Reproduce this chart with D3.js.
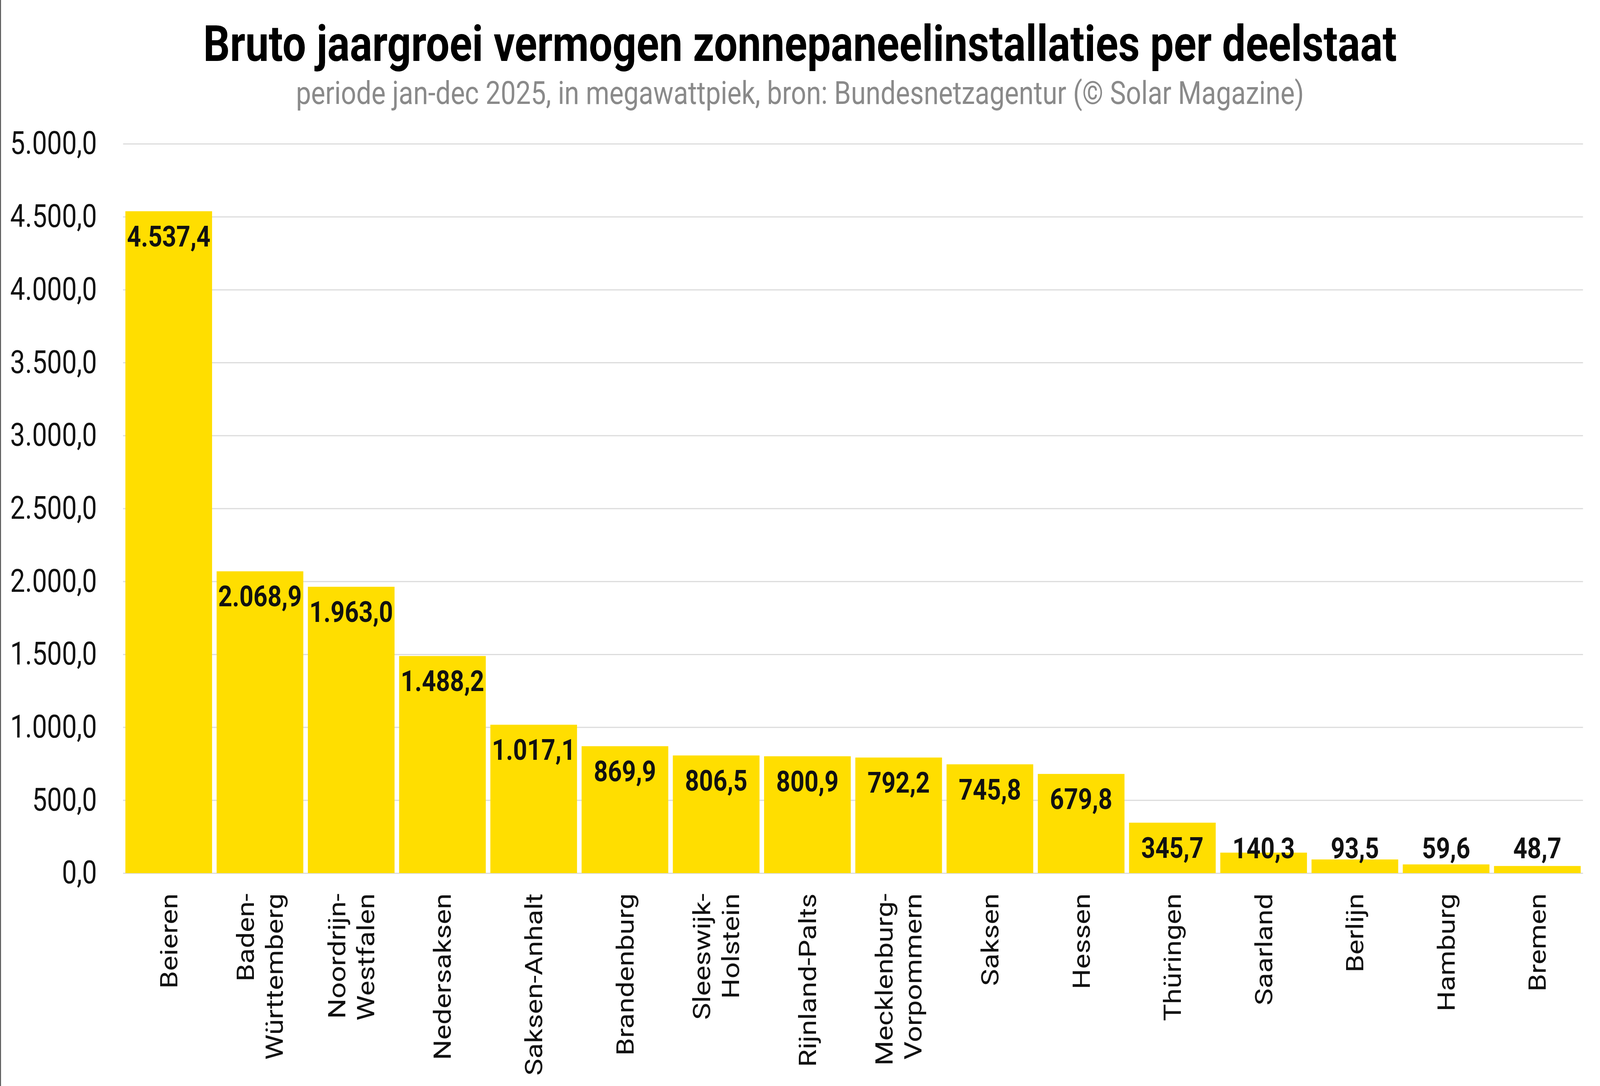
<!DOCTYPE html>
<html>
<head>
<meta charset="utf-8">
<script src="https://cdn.jsdelivr.net/npm/d3@7/dist/d3.min.js"></script>
<style>
  html, body { margin: 0; padding: 0; background: #fff; overflow: hidden; width: 100%; height: 100%; }
  svg { display: block; width: 100vw; height: 100vh; }
</style>
</head>
<body>
<script>
// ---- data ----
const categories = ["Beieren", "Baden-Württemberg", "Noordrijn-Westfalen", "Nedersaksen", "Saksen-Anhalt",
  "Brandenburg", "Sleeswijk-Holstein", "Rijnland-Palts", "Mecklenburg-Vorpommern", "Saksen", "Hessen",
  "Thüringen", "Saarland", "Berlijn", "Hamburg", "Bremen"];
const tickLabelLines = [["Beieren"], ["Baden-", "Württemberg"], ["Noordrijn-", "Westfalen"], ["Nedersaksen"],
  ["Saksen-Anhalt"], ["Brandenburg"], ["Sleeswijk-", "Holstein"], ["Rijnland-Palts"], ["Mecklenburg-", "Vorpommern"],
  ["Saksen"], ["Hessen"], ["Thüringen"], ["Saarland"], ["Berlijn"], ["Hamburg"], ["Bremen"]];
const values = [4537.4, 2068.9, 1963.0, 1488.2, 1017.1, 869.9, 806.5, 800.9, 792.2, 745.8, 679.8, 345.7, 140.3, 93.5, 59.6, 48.7];
const yTicks = [0, 500, 1000, 1500, 2000, 2500, 3000, 3500, 4000, 4500, 5000];
const titleText = "Bruto jaargroei vermogen zonnepaneelinstallaties per deelstaat";
const subtitleText = "periode jan-dec 2025, in megawattpiek, bron: Bundesnetzagentur (© Solar Magazine)";

// ---- layout (designed in reference coordinates, stretched to the window) ----
const W = 4887, H = 2780;
const plotLeft = 376, plotRight = 4835, plotTop = 368, plotBottom = 2235;
const FONT = "Roboto, 'Liberation Sans', sans-serif";
const barColor = "#FFDE00";

const nl = d3.formatLocale({ decimal: ",", thousands: ".", grouping: [3], currency: ["€", ""] });
const fmt = nl.format(",.1f");

const svg = d3.select("body").append("svg")
  .attr("viewBox", `0 0 ${W} ${H}`)
  .attr("preserveAspectRatio", "none");

svg.append("rect").attr("width", W).attr("height", H).attr("fill", "#fff");

// left border line
svg.append("line").attr("x1", 1.5).attr("x2", 1.5).attr("y1", 0).attr("y2", H)
  .attr("stroke", "#555").attr("stroke-width", 3);

// title & subtitle
svg.append("text").attr("x", W / 2).attr("y", 156)
  .attr("text-anchor", "middle").attr("font-family", FONT).attr("font-weight", 700)
  .attr("font-size", 128).attr("fill", "#000").text(titleText);
svg.append("text").attr("x", W / 2).attr("y", 266)
  .attr("text-anchor", "middle").attr("font-family", FONT).attr("font-weight", 400)
  .attr("font-size", 82).attr("fill", "#8a8a8a").text(subtitleText);

// scales
const x = d3.scaleBand().domain(categories).range([plotLeft, plotRight])
  .paddingInner(0.05).paddingOuter(0.025);
const y = d3.scaleLinear().domain([0, 5000]).range([plotBottom, plotTop]);

// y axis with gridlines
const yAxis = d3.axisLeft(y).tickValues(yTicks).tickFormat(fmt)
  .tickSize(-(plotRight - plotLeft)).tickPadding(80);
const gy = svg.append("g").attr("transform", `translate(${plotLeft},0)`).call(yAxis);
gy.select(".domain").remove();
gy.selectAll(".tick line").attr("stroke", "#dcdcdc").attr("stroke-width", 3);
gy.selectAll(".tick text").attr("font-family", FONT).attr("font-size", 81)
  .attr("fill", "#111").attr("dy", "0.32em");

// bars
svg.append("g").selectAll("rect").data(values).join("rect")
  .attr("x", (d, i) => x(categories[i]))
  .attr("width", x.bandwidth())
  .attr("y", d => y(d))
  .attr("height", d => y(0) - y(d))
  .attr("fill", barColor);

// value labels
svg.append("g").selectAll("text").data(values).join("text")
  .attr("x", (d, i) => x(categories[i]) + x.bandwidth() / 2)
  .attr("y", d => Math.min(y(d) + 90, y(0) - 38))
  .attr("text-anchor", "middle").attr("font-family", FONT).attr("font-weight", 700)
  .attr("font-size", 75).attr("fill", "#111")
  .text(d => fmt(d));

// x labels (rotated)
const lineH = 88;
const gx = svg.append("g").selectAll("g").data(categories).join("g")
  .attr("transform", d => `translate(${x(d) + x.bandwidth() / 2},${plotBottom + 52}) rotate(-90)`);
gx.each(function (d, i) {
  const lines = tickLabelLines[i];
  const t = d3.select(this).append("text")
    .attr("text-anchor", "end").attr("font-family", FONT).attr("font-size", 73).attr("fill", "#111");
  lines.forEach((ln, j) => {
    t.append("tspan").attr("x", 0)
      .attr("y", (j - (lines.length - 1) / 2) * lineH + 26)
      .text(ln);
  });
});
</script>
</body>
</html>
